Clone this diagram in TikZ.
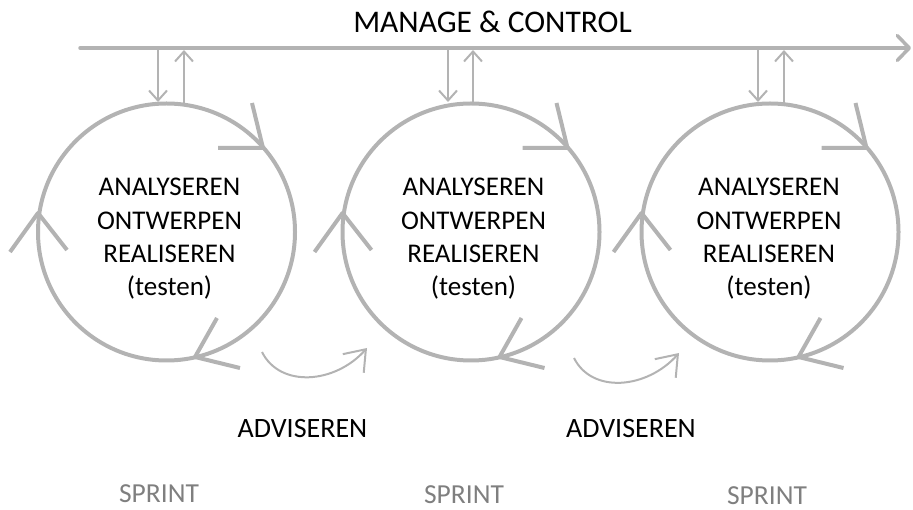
\documentclass[tikz,border=0pt]{standalone}
\usepackage{fontspec}
\setmainfont{Carlito}
\usetikzlibrary{arrows.meta,calc}
\definecolor{linegray}{HTML}{B3B3B3}
\definecolor{sprintgray}{HTML}{7F7F7F}
\tikzset{
  sprintcircle/.style={circle, draw=linegray, line width=4pt, minimum size=257pt, inner sep=0pt},
  cycletext/.style={align=center, font=\fontsize{27}{33.3}\selectfont, text=black, inner sep=0pt},
  titletext/.style={font=\fontsize{31.5}{36}\selectfont, text=black, inner sep=0pt},
  advtext/.style={font=\fontsize{28}{32}\selectfont, text=black, inner sep=0pt},
  sprinttext/.style={font=\fontsize{27.5}{32}\selectfont, text=sprintgray, inner sep=0pt},
  mainline/.style={draw=linegray, line width=3.5pt, line cap=round,
    -{Straight Barb[length=12pt,width=25pt,round]}},
  vlink/.style={draw=linegray, line width=2pt,
    -{Straight Barb[length=10pt,width=18pt]}},
  handover/.style={draw=linegray, line width=2pt,
    -{Straight Barb[length=19pt,width=28pt]}},
  chevron/.style={draw=linegray, line width=4pt, line join=round},
  flowmarks/.pic={
    \draw[chevron] (85.5,-129) -- (96.5,-84) -- (51.5,-84);
    \draw[chevron] (-156.5,20) -- (-128.5,-19) -- (-99.5,18);
    \draw[chevron] (50.5,86) -- (28.5,125) -- (73.5,136);
  }
}
\begin{document}
\begin{tikzpicture}[x=1pt,y=-1pt]
  \useasboundingbox (0,0) rectangle (913,510);

  % management line
  \node[titletext, anchor=base] (title) at (492.5,33) {MANAGE \& CONTROL};
  \coordinate (ls) at (80,48);
  \coordinate (le) at (911,48);
  \draw[mainline] (ls) -- (le);

  % sprint cycles
  \node[sprintcircle] (c1) at (166.5,232) {};
  \node[sprintcircle] (c2) at (471,232) {};
  \node[sprintcircle] (c3) at (770,232) {};
  \pic at (c1.center) {flowmarks};
  \pic at (c2.center) {flowmarks};
  \pic at (c3.center) {flowmarks};

  \node[cycletext] (t1) at (169.5,239) {ANALYSEREN\\ONTWERPEN\\REALISEREN\\(testen)};
  \node[cycletext] (t2) at (473.5,239) {ANALYSEREN\\ONTWERPEN\\REALISEREN\\(testen)};
  \node[cycletext] (t3) at (769,239) {ANALYSEREN\\ONTWERPEN\\REALISEREN\\(testen)};

  % links between the line and each cycle
  \coordinate (d1a) at (158,49);  \coordinate (d1b) at (158,102);
  \coordinate (u1a) at (184,103); \coordinate (u1b) at (184,50);
  \coordinate (d2a) at (448,49);  \coordinate (d2b) at (448,102);
  \coordinate (u2a) at (473,103); \coordinate (u2b) at (473,50);
  \coordinate (d3a) at (758,49);  \coordinate (d3b) at (758,102);
  \coordinate (u3a) at (784,103); \coordinate (u3b) at (784,50);
  \draw[vlink] (d1a) -- (d1b);
  \draw[vlink] (u1a) -- (u1b);
  \draw[vlink] (d2a) -- (d2b);
  \draw[vlink] (u2a) -- (u2b);
  \draw[vlink] (d3a) -- (d3b);
  \draw[vlink] (u3a) -- (u3b);

  % hand-over between sprints
  \coordinate (h1s) at (262,352); \coordinate (h1e) at (367,348);
  \coordinate (h2s) at (574,358); \coordinate (h2e) at (679,353);
  \draw[handover] (h1s) .. controls (280,388) and (335,384) .. (h1e);
  \draw[handover] (h2s) .. controls (592,394) and (647,389) .. (h2e);

  \node[advtext, anchor=base] (a1) at (302.5,438) {ADVISEREN};
  \node[advtext, anchor=base] (a2) at (631,438) {ADVISEREN};

  \node[sprinttext, anchor=base] (s1) at (159,502) {SPRINT};
  \node[sprinttext, anchor=base] (s2) at (464,503.5) {SPRINT};
  \node[sprinttext, anchor=base] (s3) at (767,504) {SPRINT};
\end{tikzpicture}
\end{document}
